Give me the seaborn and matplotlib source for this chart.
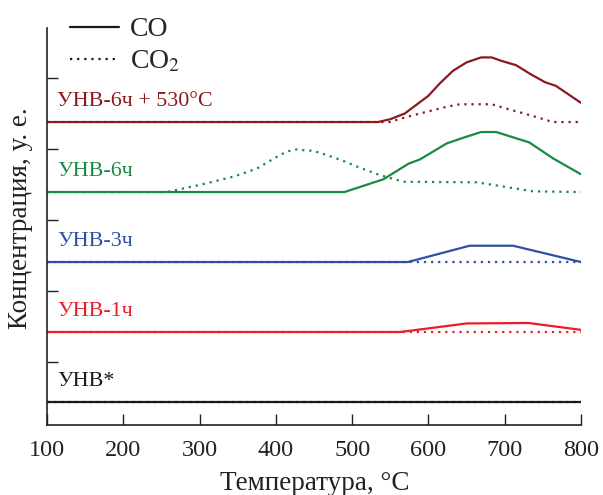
import numpy as np
import pandas as pd
import matplotlib
matplotlib.use("Agg")
import matplotlib.pyplot as plt
import seaborn as sns
from matplotlib.lines import Line2D

# ---- data (temperature °C, signal in arbitrary units above each baseline) ----
samples = ["УНВ*", "УНВ-1ч", "УНВ-3ч", "УНВ-6ч", "УНВ-6ч + 530°C"]
colors = ["#1a1a1a", "#ec1c24", "#2e4fa3", "#178a43", "#8a1a1e"]
offsets = [0.437, 1.423, 2.408, 3.394, 4.38]

unv_co_t = [100, 800]
unv_co_v = [0, 0]
unv_co2_t = [100, 800]
unv_co2_v = [0, 0]

unv1_co_t = [100, 563, 650, 731, 800]
unv1_co_v = [0, 0, 0.12, 0.127, 0.03]
unv1_co2_t = [100, 800]
unv1_co2_v = [0, 0]

unv3_co_t = [100, 573, 654, 711, 800]
unv3_co_v = [0, 0, 0.23, 0.23, 0]
unv3_co2_t = [100, 800]
unv3_co2_v = [0, 0]

unv6_co_t = [100, 490, 541, 574, 589, 624, 650, 669, 689, 711, 732, 764, 800]
unv6_co_v = [0, 0, 0.18, 0.40, 0.46, 0.685, 0.78, 0.845, 0.845, 0.77, 0.70, 0.47, 0.25]
unv6_co2_t = [100, 257, 300, 344, 375, 397, 414, 429, 436, 449, 467, 488, 506, 536, 567,
              663, 694, 737, 800]
unv6_co2_v = [0, 0, 0.10, 0.215, 0.33, 0.47, 0.57, 0.605, 0.59, 0.58, 0.52, 0.44, 0.36,
              0.24, 0.145, 0.137, 0.085, 0.01, 0]

unv6h_co_t = [100, 534, 550, 569, 600, 615, 632, 650, 669, 683, 696, 715, 733, 753, 767, 800]
unv6h_co_v = [0, 0, 0.04, 0.12, 0.37, 0.545, 0.72, 0.84, 0.91, 0.91, 0.86, 0.80, 0.68,
              0.56, 0.51, 0.27]
unv6h_co2_t = [100, 549, 571, 598, 624, 641, 683, 702, 737, 763, 800]
unv6h_co2_v = [0, 0, 0.07, 0.145, 0.215, 0.25, 0.25, 0.19, 0.085, 0, 0]

co_series = [(unv_co_t, unv_co_v), (unv1_co_t, unv1_co_v), (unv3_co_t, unv3_co_v),
             (unv6_co_t, unv6_co_v), (unv6h_co_t, unv6h_co_v)]
co2_series = [(unv_co2_t, unv_co2_v), (unv1_co2_t, unv1_co2_v), (unv3_co2_t, unv3_co2_v),
              (unv6_co2_t, unv6_co2_v), (unv6h_co2_t, unv6h_co2_v)]

x_ticks = [100, 200, 300, 400, 500, 600, 700, 800]
y_ticks = [1, 2, 3, 4, 5]

sns.set_style("white")
plt.rcParams['font.family'] = ['Liberation Serif', 'DejaVu Serif']
plt.rcParams['mathtext.fontset'] = 'stix'

fig = plt.figure(figsize=(6.03, 4.95), dpi=100)
ax = fig.add_axes([0.078, 0.1414, 0.8855, 0.802])

for (t, v), off, c in zip(co2_series, offsets, colors):
    sns.lineplot(x=t, y=np.array(v) + off, ax=ax, color=c, lw=1.6,
                 linestyle=(0, (1, 2.2)), estimator=None, sort=False)
for (t, v), off, c in zip(co_series, offsets, colors):
    sns.lineplot(x=t, y=np.array(v) + off, ax=ax, color=c, lw=1.6,
                 estimator=None, sort=False)

for name, off, c in zip(samples, offsets, colors):
    ax.text(113, off + 0.22, name, color=c, fontsize=15.8, va='baseline', ha='left')

ax.set_xlim(100, 800)
ax.set_ylim(0.113, 5.704)
ax.set_xticks(x_ticks)
ax.set_yticks(y_ticks)
ax.set_yticklabels([])
ax.tick_params(axis='both', direction='in', length=8, width=1, colors='#222222',
               labelsize=17.5, labelcolor='#222222', bottom=True, left=True)
ax.tick_params(axis='x', pad=11)
for s in ['top', 'right']:
    ax.spines[s].set_visible(False)
for s in ['left', 'bottom']:
    ax.spines[s].set_color('#222222')
    ax.spines[s].set_linewidth(1.2)

ax.set_xlabel("Температура, °C", fontsize=19.5, color='#222222')
ax.xaxis.set_label_coords(0.501, -0.116)
ax.set_ylabel("Концентрация, у. е.", fontsize=19.5, color='#222222')
ax.yaxis.set_label_coords(-0.027, 0.522)

handles = [Line2D([], [], color='#1a1a1a', lw=1.6),
           Line2D([], [], color='#1a1a1a', lw=1.6, linestyle=(0, (1, 2.2)))]
fig.legend(handles, ["CO", "CO$_2$"], loc='upper left', bbox_to_anchor=(0.116, 0.966),
           frameon=False, fontsize=20, handlelength=1.75, handletextpad=0.4,
           labelspacing=0.25, borderpad=0, borderaxespad=0)

fig.savefig("out.png", dpi=100)
